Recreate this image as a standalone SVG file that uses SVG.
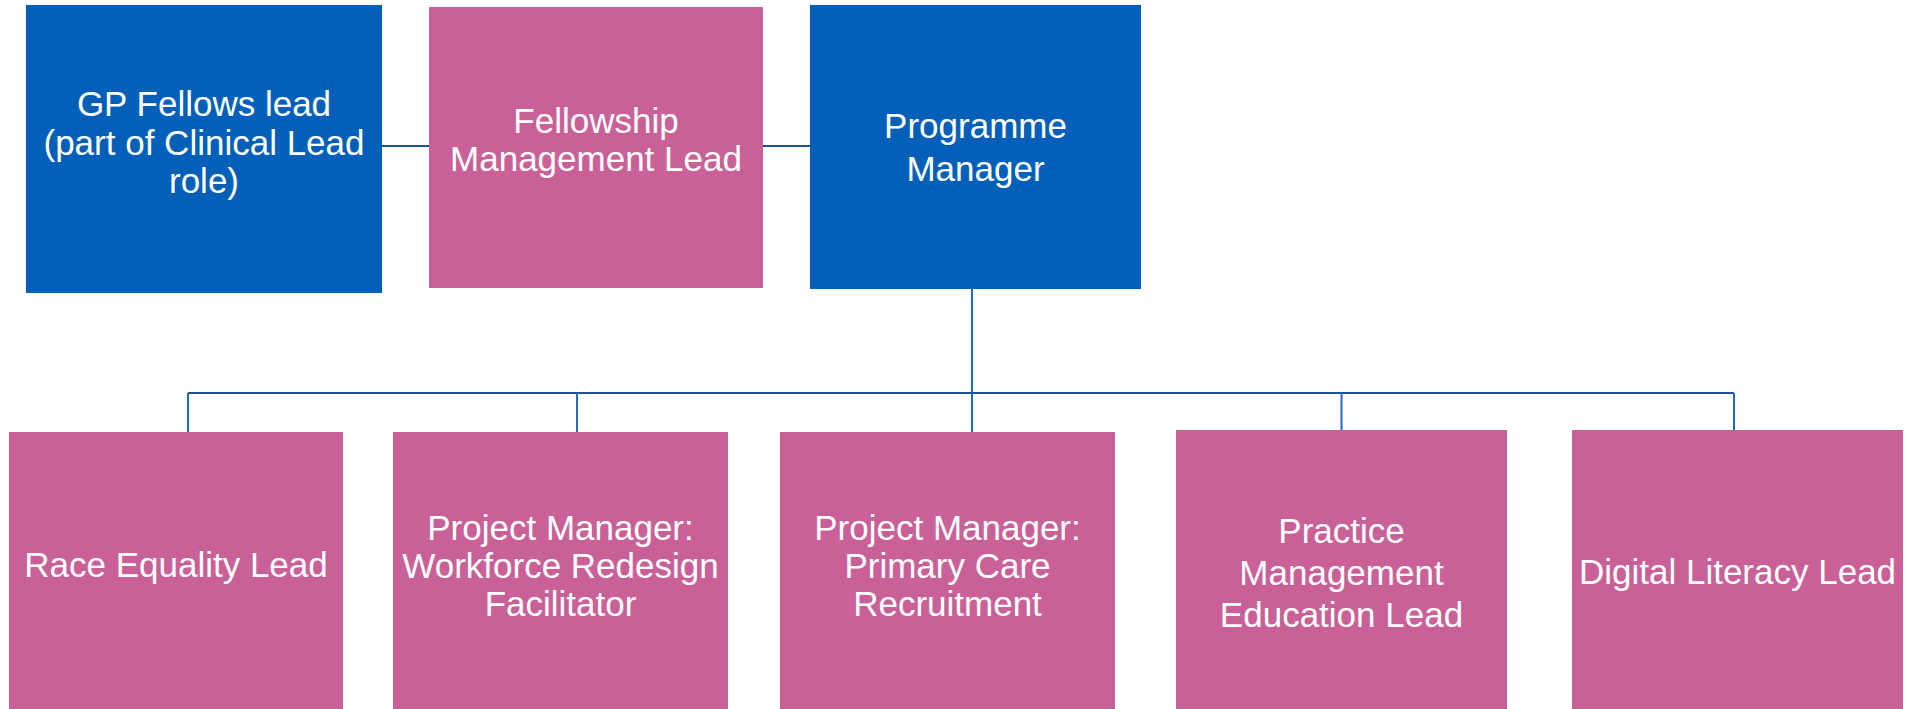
<svg xmlns="http://www.w3.org/2000/svg" width="1910" height="709" viewBox="0 0 1910 709">
<style>
.blue{fill:#035FB8}
.pink{fill:#C96198}
.lbl{font-family:"Liberation Sans",Arial,sans-serif;font-size:35px;fill:#FFFFFF;text-anchor:middle}
.h{stroke:#1F4F9F;stroke-width:2;fill:none}
.v{stroke:#1B6CCC;stroke-width:2;fill:none}
</style>
<rect width="1910" height="709" fill="#FFFFFF"/>
<g id="connectors">
<line class="h" x1="382" y1="146" x2="429" y2="146"/>
<line class="h" x1="763" y1="146" x2="810" y2="146"/>
<line class="v" x1="972" y1="289" x2="972" y2="432"/>
<line class="h" x1="188" y1="393" x2="1734" y2="393"/>
<line class="v" x1="188" y1="393" x2="188" y2="432"/>
<line class="v" x1="577" y1="393" x2="577" y2="432"/>
<line class="v" x1="1341.5" y1="393" x2="1341.5" y2="430"/>
<line class="v" x1="1734" y1="393" x2="1734" y2="430"/>
</g>
<g id="gp-fellows-lead">
<rect class="blue" x="26" y="5" width="356" height="288"/>
<text class="lbl" x="204" y="116">GP Fellows lead</text>
<text class="lbl" x="204" y="154.5">(part of Clinical Lead</text>
<text class="lbl" x="204" y="193">role)</text>
</g>
<g id="fellowship-management-lead">
<rect class="pink" x="429" y="7" width="334" height="281"/>
<text class="lbl" x="596" y="133">Fellowship</text>
<text class="lbl" x="596" y="171">Management Lead</text>
</g>
<g id="programme-manager">
<rect class="blue" x="810" y="5" width="331" height="284"/>
<text class="lbl" x="975.5" y="137.5">Programme</text>
<text class="lbl" x="975.5" y="181">Manager</text>
</g>
<g id="race-equality-lead">
<rect class="pink" x="9" y="432" width="334" height="277"/>
<text class="lbl" x="176" y="577">Race Equality Lead</text>
</g>
<g id="pm-workforce-redesign">
<rect class="pink" x="393" y="432" width="335" height="277"/>
<text class="lbl" x="560.5" y="539.5">Project Manager:</text>
<text class="lbl" x="560.5" y="577.5">Workforce Redesign</text>
<text class="lbl" x="560.5" y="615.5">Facilitator</text>
</g>
<g id="pm-primary-care-recruitment">
<rect class="pink" x="780" y="432" width="335" height="277"/>
<text class="lbl" x="947.5" y="539.5">Project Manager:</text>
<text class="lbl" x="947.5" y="577.5">Primary Care</text>
<text class="lbl" x="947.5" y="615.5">Recruitment</text>
</g>
<g id="practice-management-education-lead">
<rect class="pink" x="1176" y="430" width="331" height="279"/>
<text class="lbl" x="1341.5" y="543">Practice</text>
<text class="lbl" x="1341.5" y="585">Management</text>
<text class="lbl" x="1341.5" y="627">Education Lead</text>
</g>
<g id="digital-literacy-lead">
<rect class="pink" x="1572" y="430" width="331" height="279"/>
<text class="lbl" x="1737.5" y="584">Digital Literacy Lead</text>
</g>
</svg>
